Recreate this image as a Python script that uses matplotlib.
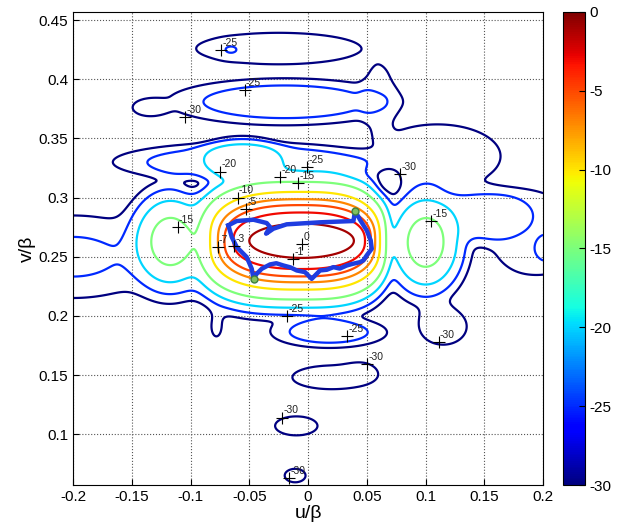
import numpy as np
import matplotlib
matplotlib.use("Agg")
import matplotlib.pyplot as plt
from matplotlib.colors import Normalize

plt.rcParams['font.family'] = ['Liberation Sans', 'DejaVu Sans']

# contour levels (dB) and colour range
levels = [-30, -25, -20, -15, -10, -7, -5, -3, -1]
vmin, vmax = -30, 0

# main beam: centre, half widths of the -1 dB contour,
# growth exponents of the half widths with depth, and corner squareness
main_u0, main_v0 = -0.0055, 0.2635
main_w1, main_h1 = 0.0445, 0.0145
main_k_left, main_k_right, main_k_v = 4.15, 5.7, 2.2
main_square = 0.35

# side lobes: centre u, centre v, width u, width v, peak dB, flatness
lobe_u = [-0.117, 0.100, -0.056, -0.050, -0.025, -0.066, 0.060, -0.020, -0.135,
          0.110, -0.200, 0.205, 0.150, 0.190, 0.018, 0.020, 0.046, -0.010, -0.011, 0.115, -0.078]
lobe_v = [0.263, 0.262, 0.332, 0.330, 0.426, 0.425, 0.385, 0.381, 0.376,
          0.335, 0.250, 0.257, 0.285, 0.270, 0.186, 0.148, 0.155, 0.107, 0.065, 0.191, 0.190]
lobe_su = [0.021, 0.020, 0.035, 0.110, 0.079, 0.010, 0.016, 0.090, 0.018,
           0.060, 0.060, 0.012, 0.040, 0.040, 0.045, 0.045, 0.014, 0.026, 0.014, 0.026, 0.008]
lobe_sv = [0.026, 0.027, 0.016, 0.016, 0.015, 0.006, 0.035, 0.018, 0.009,
           0.030, 0.0285, 0.012, 0.022, 0.040, 0.012, 0.0135, 0.009, 0.0116, 0.009, 0.020, 0.015]
lobe_db = [-12.5, -12.5, -19.0, -24.0, -27.3, -27.5, -28.5, -23.5, -28.5,
           -27.2, -23.5, -24.0, -23.5, -27.5, -23.8, -28.7, -30.0, -29.0, -29.3, -28.5, -29.0]
lobe_q = [1, 1, 2, 3, 2, 1, 2, 2, 2,
          2, 1, 1, 2, 2, 2, 2, 1, 2, 2, 2, 1]

# local dips: centre u, centre v, width u, width v, depth
dip_u = [0.002, 0.068, -0.097]
dip_v = [0.327, 0.314, 0.311]
dip_su = [0.007, 0.012, 0.012]
dip_sv = [0.003, 0.013, 0.008]
dip_depth = [0.35, 0.85, 0.5]

# outline drawn over the beam (u, v)
outline_u = [-0.0678, -0.0607, -0.0465, -0.0352, -0.0323, -0.0357, -0.0295, -0.0182,
             0.0102, 0.0386, 0.0400, 0.0442, 0.0499, 0.0533, 0.0542, 0.0499, 0.0471,
             0.0442, 0.0380, 0.0329, 0.0270, 0.0216, 0.0160, 0.0102, 0.0031, -0.0026,
             -0.0096, -0.0150, -0.0210, -0.0270, -0.0323, -0.0394, -0.0437, -0.0465,
             -0.0479, -0.0522, -0.0607, -0.0649, -0.0678]
outline_v = [0.2765, 0.2802, 0.2813, 0.2785, 0.2751, 0.2695, 0.2737, 0.2774,
             0.2791, 0.2802, 0.2887, 0.2813, 0.2723, 0.2638, 0.2567, 0.2511, 0.2469,
             0.2454, 0.2440, 0.2426, 0.2400, 0.2412, 0.2390, 0.2384, 0.2313, 0.2370,
             0.2384, 0.2410, 0.2426, 0.2445, 0.2435, 0.2398, 0.2356, 0.2313,
             0.2398, 0.2497, 0.2582, 0.2666, 0.2765]
dot_u = [0.040, -0.046]
dot_v = [0.2887, 0.2313]

# contour label markers: position and text
lab_u = [-0.074, -0.054, -0.105, -0.075, -0.024, -0.001, -0.0085, -0.060, -0.053,
         -0.111, -0.077, -0.063, -0.005, -0.013, 0.078, 0.105, -0.018, 0.033, 0.050,
         0.111, -0.022, -0.016]
lab_v = [0.425, 0.391, 0.368, 0.322, 0.317, 0.326, 0.312, 0.300, 0.290,
         0.275, 0.258, 0.259, 0.261, 0.248, 0.320, 0.280, 0.200, 0.183, 0.159,
         0.178, 0.114, 0.063]
lab_txt = ['-25', '-25', '-30', '-20', '-20', '-25', '-15', '-10', '-5',
           '-15', '-7', '-3', '0', '-1', '-30', '-15', '-25', '-25', '-30',
           '-30', '-30', '-30']

u = np.linspace(-0.2, 0.2, 501)
v = np.linspace(0.057, 0.457, 501)
U, V = np.meshgrid(u, v)

# main beam: find the depth d whose contour passes through each point
du = np.abs(U - main_u0)
dv = np.abs(V - main_v0)
k_u = np.where(U < main_u0, main_k_left, main_k_right)
lo = np.full(U.shape, 1e-4)
hi = np.full(U.shape, 80.0)
for _ in range(45):
    d = 0.5 * (lo + hi)
    n = 2 + main_square * np.log(np.maximum(d, 1))
    g = (du / (main_w1 * d ** (1 / k_u))) ** n + (dv / (main_h1 * d ** (1 / main_k_v))) ** n
    inside = g < 1
    hi = np.where(inside, d, hi)
    lo = np.where(inside, lo, d)
main_db = -0.5 * (lo + hi)

power = 10 ** (main_db / 10)
for lu, lv, su, sv, pk, q in zip(lobe_u, lobe_v, lobe_su, lobe_sv, lobe_db, lobe_q):
    r2 = ((U - lu) / su) ** 2 + ((V - lv) / sv) ** 2
    power += 10 ** (pk / 10) * np.exp(-r2 ** q)
for lu, lv, su, sv, dd in zip(dip_u, dip_v, dip_su, dip_sv, dip_depth):
    r2 = ((U - lu) / su) ** 2 + ((V - lv) / sv) ** 2
    power *= 1 - dd * np.exp(-r2)
Z = 10 * np.log10(power + 1e-6)

fig = plt.figure(figsize=(6.31, 5.31), dpi=100)
ax = fig.add_axes([0.1157, 0.0866, 0.745, 0.891])
cax = fig.add_axes([0.892, 0.0866, 0.035, 0.891])

norm = Normalize(vmin=vmin, vmax=vmax)
ax.contour(U, V, Z, levels=levels, cmap='jet', norm=norm, linewidths=1.6)

ax.plot(outline_u, outline_v, color='#1f3de0', lw=3.2, solid_joinstyle='round')
ax.plot(dot_u, dot_v, 'o', color='#7fbf5f', ms=5, mec='#3f7f3f')

for lu, lv, t in zip(lab_u, lab_v, lab_txt):
    ax.plot(lu, lv, '+', color='k', ms=8, mew=0.8)
    ax.annotate(t, (lu, lv), xytext=(1, 3), textcoords='offset points',
                fontsize=7.5, color='#222222')

ax.set_xlim(-0.2, 0.2)
ax.set_ylim(0.057, 0.457)
ax.set_xticks([-0.2, -0.15, -0.1, -0.05, 0, 0.05, 0.1, 0.15, 0.2])
ax.set_xticklabels(['-0.2', '-0.15', '-0.1', '-0.05', '0', '0.05', '0.1', '0.15', '0.2'])
ax.set_yticks([0.1, 0.15, 0.2, 0.25, 0.3, 0.35, 0.4, 0.45])
ax.set_yticklabels(['0.1', '0.15', '0.2', '0.25', '0.3', '0.35', '0.4', '0.45'])
ax.tick_params(direction='in', labelsize=11, length=4)
ax.grid(True, linestyle=':', color='#555555', linewidth=0.8)
ax.set_xlabel('u/β', fontsize=14, labelpad=1)
ax.set_ylabel('v/β', fontsize=14, labelpad=2)

sm = plt.cm.ScalarMappable(norm=norm, cmap='jet')
cb = fig.colorbar(sm, cax=cax, ticks=[0, -5, -10, -15, -20, -25, -30])
cb.ax.tick_params(direction='in', labelsize=11, length=4)
cb.ax.set_yticklabels(['0', '-5', '-10', '-15', '-20', '-25', '-30'])

fig.savefig('out.png', dpi=100)
